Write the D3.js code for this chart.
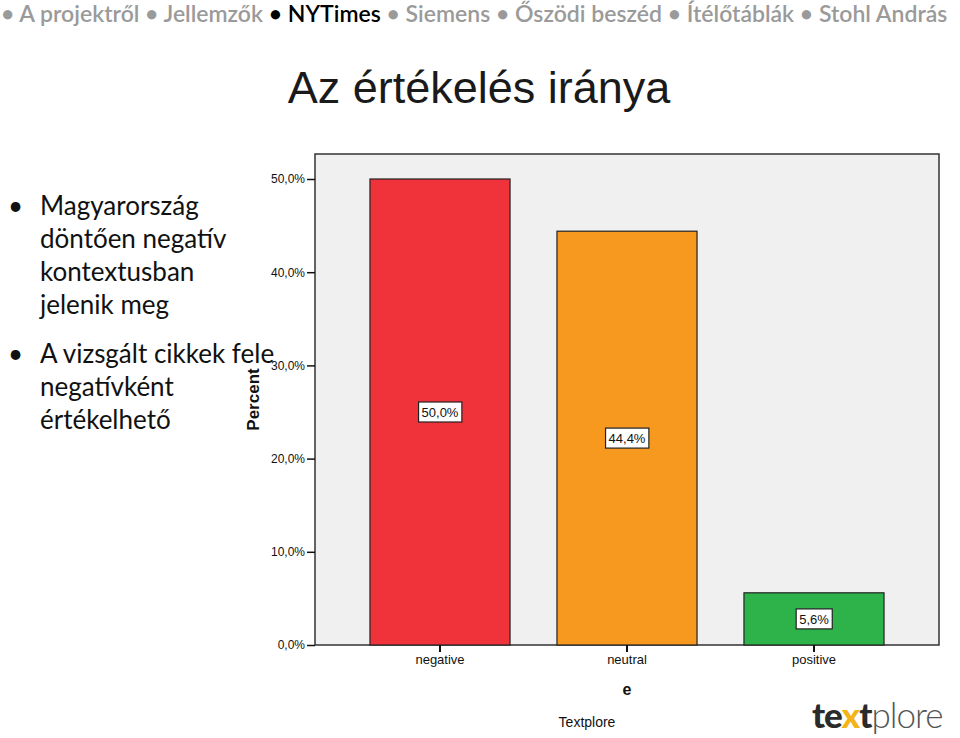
<!DOCTYPE html>
<html><head><meta charset="utf-8">
<script src="https://cdn.jsdelivr.net/npm/d3@7"></script>
<style>body{margin:0;background:#fff;}svg{display:block;}</style>
</head><body>
<svg id="c" width="960" height="738"></svg>
<script>
const categories = ["negative", "neutral", "positive"];
const percents = [50.0, 44.4, 5.6];
const valueLabels = ["50,0%", "44,4%", "5,6%"];
const barColors = ["#f0333a", "#f7981f", "#2db34a"];
const yTicks = [0, 10, 20, 30, 40, 50];
const navItems = ["A projektről", "Jellemzők", "NYTimes", "Siemens", "Őszödi beszéd", "Ítélőtáblák", "Stohl András"];
const bullets = [["Magyarország", "döntően negatív", "kontextusban", "jelenik meg"], ["A vizsgált cikkek fele", "negatívként", "értékelhető"]];

(function () {
const svg = d3.select("#c");
const fmt = d => d.toFixed(1).replace(".", ",") + "%";

// nav bar
const nav = svg.append("text").attr("x", 1).attr("y", 22)
  .style("font-family", "Lato, 'Open Sans', sans-serif").style("font-size", "23px").style("font-weight", "600");
navItems.forEach((t, i) => {
  nav.append("tspan").attr("fill", t === "NYTimes" ? "#000" : "#9a9a9a").text("• ");
  nav.append("tspan").attr("fill", t === "NYTimes" ? "#000" : "#9a9a9a").text(t + (i < navItems.length - 1 ? "  " : ""));
});

// title
svg.append("text").attr("x", 479).attr("y", 103).attr("text-anchor", "middle")
  .style("font-family", "'Liberation Sans Narrow', sans-serif").style("font-size", "45px").attr("fill", "#1a1a1a")
  .text("Az értékelés iránya");

// bullets
const bStarts = [215, 363];
bullets.forEach((lines, bi) => {
  svg.append("text").attr("x", 8).attr("y", bStarts[bi]).style("font-family", "Lato, sans-serif").style("font-size", "26px").attr("fill", "#111").text("•");
  lines.forEach((l, li) => {
    svg.append("text").attr("x", 40).attr("y", bStarts[bi] + li * 33)
      .style("font-family", "Lato, sans-serif").style("font-size", "26px").attr("fill", "#111").text(l);
  });
});

// plot
const pl = 315, pr = 939, pt = 154, pb = 645;
const x = d3.scaleBand().domain(categories).range([pl, pr]).paddingInner(0.251).paddingOuter(0.294);
const y = d3.scaleLinear().domain([0, 50]).range([pb, 179]);

svg.append("rect").attr("x", pl).attr("y", pt).attr("width", pr - pl).attr("height", pb - pt)
  .attr("fill", "#f0f0f0").attr("stroke", "#333").attr("stroke-width", 1.5);

const bars = svg.append("g");
bars.selectAll("rect").data(categories).join("rect")
  .attr("x", d => x(d)).attr("y", (d, i) => y(percents[i]))
  .attr("width", x.bandwidth()).attr("height", (d, i) => pb - y(percents[i]))
  .attr("fill", (d, i) => barColors[i]).attr("stroke", "#222").attr("stroke-width", 1.2);

// value labels
categories.forEach((c, i) => {
  const cx = x(c) + x.bandwidth() / 2;
  const cy = (y(percents[i]) + pb) / 2;
  const g = svg.append("g");
  const t = g.append("text").attr("x", cx).attr("y", cy + 5).attr("text-anchor", "middle")
    .style("font-family", "Arial, 'Liberation Sans', sans-serif").style("font-size", "13px").attr("fill", "#111").text(valueLabels[i]);
  const bb = t.node().getBBox();
  g.insert("rect", "text").attr("x", bb.x - 3).attr("y", cy - 10).attr("width", bb.width + 6).attr("height", 20)
    .attr("fill", "#fff").attr("stroke", "#222").attr("stroke-width", 1.2);
});

// y axis
const yAxis = svg.append("g").attr("transform", `translate(${pl},0)`)
  .call(d3.axisLeft(y).tickValues(yTicks).tickFormat(fmt).tickSize(8).tickPadding(2));
yAxis.select(".domain").remove();
yAxis.selectAll("line").attr("stroke", "#111").attr("stroke-width", 1.5);
yAxis.selectAll("text").style("font-family", "Arial, 'Liberation Sans', sans-serif").style("font-size", "12px").attr("fill", "#111");

// x axis
const xAxis = svg.append("g").attr("transform", `translate(0,${pb})`)
  .call(d3.axisBottom(x).tickSize(7).tickPadding(3));
xAxis.select(".domain").remove();
xAxis.selectAll("line").attr("stroke", "#111").attr("stroke-width", 2);
xAxis.selectAll("text").style("font-family", "Arial, 'Liberation Sans', sans-serif").style("font-size", "13px").attr("fill", "#111");

// axis titles
svg.append("text").attr("transform", `translate(259,${(pt + pb) / 2}) rotate(-90)`).attr("text-anchor", "middle")
  .style("font-family", "Arial, 'Liberation Sans', sans-serif").style("font-size", "17px").style("font-weight", "bold").attr("fill", "#111").text("Percent");
svg.append("text").attr("x", 627).attr("y", 695).attr("text-anchor", "middle")
  .style("font-family", "Arial, 'Liberation Sans', sans-serif").style("font-size", "16px").style("font-weight", "bold").attr("fill", "#111").text("e");
svg.append("text").attr("x", 587).attr("y", 727).attr("text-anchor", "middle")
  .style("font-family", "Arial, 'Liberation Sans', sans-serif").style("font-size", "14px").attr("fill", "#111").text("Textplore");

// logo
const logo = svg.append("text").attr("x", 812).attr("y", 728).style("font-family", "Lato, sans-serif").style("font-size", "35px").attr("letter-spacing", "-1");
logo.append("tspan").attr("fill", "#2b2b2b").style("font-weight", "900").text("te");
logo.append("tspan").attr("fill", "#f2b416").style("font-weight", "900").text("x");
logo.append("tspan").attr("fill", "#2b2b2b").style("font-weight", "900").text("t");
logo.append("tspan").attr("fill", "#555").style("font-weight", "300").text("plore");
})();
</script>
</body></html>
